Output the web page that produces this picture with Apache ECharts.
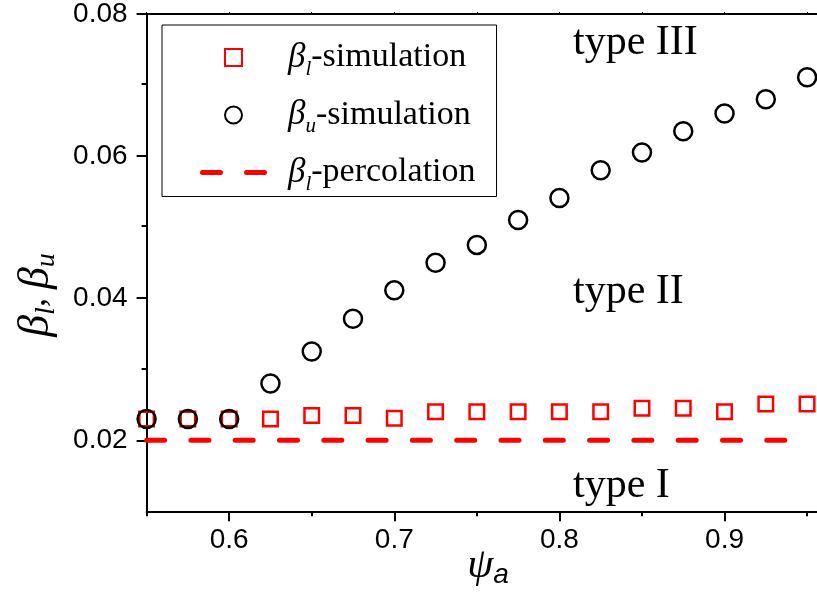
<!DOCTYPE html>
<html>
<head>
<meta charset="utf-8">
<script src="https://cdn.jsdelivr.net/npm/echarts@6/dist/echarts.min.js"></script>
<style>
  html, body { margin: 0; padding: 0; background: #fff; }
  #main { width: 817px; height: 596px; }
</style>
</head>
<body>
<div id="main"></div>
<script>
// data
var psi = [0.55, 0.575, 0.6, 0.625, 0.65, 0.675, 0.7, 0.725, 0.75, 0.775, 0.8, 0.825, 0.85, 0.875, 0.9, 0.925, 0.95];
var betaLower = [0.0230, 0.0230, 0.0230, 0.0230, 0.0235, 0.0235, 0.0231, 0.0240, 0.0240, 0.0240, 0.0240, 0.0240, 0.0245, 0.0245, 0.0240, 0.0251, 0.0251];
var betaUpper = [0.0230, 0.0230, 0.0230, 0.0280, 0.0325, 0.0371, 0.0411, 0.0450, 0.0475, 0.0510, 0.0541, 0.0580, 0.0605, 0.0635, 0.0660, 0.0680, 0.0711];
var percX = [0.55, 0.941];
var percY = [0.02, 0.02];

var xMajor = [0.6, 0.7, 0.8, 0.9];
var xMinor = [0.55, 0.65, 0.75, 0.85, 0.95];
var yMajor = [0.02, 0.04, 0.06, 0.08];
var yMinor = [0.03, 0.05, 0.07];

var serif = '"Liberation Serif", "Times New Roman", serif';
var sans = '"Liberation Sans", Arial, sans-serif';

function pairs(xs, ys) {
  return xs.map(function (x, i) { return [x, ys[i]]; });
}

// legend icons: open square, two rounded dashes
var squareIcon = 'path://M0,0H10V10H0Z';
var dashIcon = 'path://M2.5,0H20.5A2.5,2.5,0,0,1,20.5,5H2.5A2.5,2.5,0,0,1,2.5,0Z' +
               'M46.5,0H64.5A2.5,2.5,0,0,1,64.5,5H46.5A2.5,2.5,0,0,1,46.5,0Z';

var chart = echarts.init(document.getElementById('main'));

var gridBox = { left: 146.6, right: 0, top: 12.3, bottom: 84.7 };
var xRange = { min: 0.55, max: 0.956 };
var yRange = { min: 0.01, max: 0.08 };

var option = {
  backgroundColor: '#fff',
  animation: false,
  grid: [
    Object.assign({}, gridBox),
    Object.assign({}, gridBox)   // second grid only carries the short minor ticks
  ],
  xAxis: [
    {
      type: 'value', gridIndex: 0, position: 'bottom',
      min: xRange.min, max: xRange.max, interval: 0.05,
      axisLine: { lineStyle: { color: '#000', width: 2 } },
      axisTick: { inside: false, length: 10, customValues: xMajor, lineStyle: { color: '#000', width: 2 } },
      axisLabel: {
        customValues: xMajor, margin: 15,
        fontFamily: sans, fontSize: 28, color: '#000',
        formatter: function (v) { return v.toFixed(1); }
      },
      splitLine: { show: false }
    },
    {
      type: 'value', gridIndex: 0, position: 'top',
      min: xRange.min, max: xRange.max, interval: 0.05,
      axisLine: { lineStyle: { color: '#000', width: 2 } },
      axisTick: { length: 2, customValues: xMajor.concat(xMinor), lineStyle: { color: '#000', width: 1 } },
      axisLabel: { show: false },
      splitLine: { show: false }
    },
    {
      type: 'value', gridIndex: 1, position: 'bottom',
      min: xRange.min, max: xRange.max, interval: 0.05,
      axisLine: { show: false },
      axisTick: { length: 5, customValues: xMinor, lineStyle: { color: '#000', width: 2 } },
      axisLabel: { show: false },
      splitLine: { show: false }
    }
  ],
  yAxis: [
    {
      type: 'value', gridIndex: 0, position: 'left',
      min: yRange.min, max: yRange.max, interval: 0.01,
      axisLine: { show: true, lineStyle: { color: '#000', width: 2 } },
      axisTick: { show: true, length: 10, customValues: yMajor, lineStyle: { color: '#000', width: 2 } },
      axisLabel: {
        customValues: yMajor, margin: 19,
        fontFamily: sans, fontSize: 28, color: '#000',
        formatter: function (v) { return v.toFixed(2); }
      },
      splitLine: { show: false }
    },
    {
      type: 'value', gridIndex: 1, position: 'left',
      min: yRange.min, max: yRange.max, interval: 0.01,
      axisLine: { show: false },
      axisTick: { show: true, length: 5, customValues: yMinor, lineStyle: { color: '#000', width: 2 } },
      axisLabel: { show: false },
      splitLine: { show: false }
    }
  ],
  legend: {
    orient: 'vertical',
    left: 162, top: 25,
    padding: [15, 21, 2, 38],
    itemGap: 18,
    itemWidth: 67,
    itemHeight: 17,
    borderColor: '#000',
    borderWidth: 1,
    borderRadius: 0,
    backgroundColor: '#fff',
    data: [
      { name: 'bl-sim', icon: squareIcon },
      { name: 'bu-sim', icon: 'circle' },
      { name: 'bl-perc', icon: dashIcon, itemStyle: { color: '#ff0000', borderWidth: 0 } }
    ],
    formatter: function (name) {
      if (name === 'bl-sim') return '{b|β}{s|l}{t|-simulation}';
      if (name === 'bu-sim') return '{b|β}{s|u}{t|-simulation}';
      return '{b|β}{s|l}{t|-percolation}';
    },
    textStyle: {
      color: '#000',
      rich: {
        b: { fontFamily: serif, fontStyle: 'italic', fontSize: 35, lineHeight: 44, padding: [0, 0, 0, 16], color: '#000' },
        s: { fontFamily: serif, fontStyle: 'italic', fontSize: 21, lineHeight: 8, verticalAlign: 'bottom', color: '#000' },
        t: { fontFamily: serif, fontSize: 34, lineHeight: 44, color: '#000' }
      }
    }
  },
  graphic: [
    {
      type: 'text', x: 573, y: 43,
      style: { text: 'type III', font: '42px ' + serif, fill: '#000', verticalAlign: 'middle' }
    },
    {
      type: 'text', x: 573, y: 292,
      style: { text: 'type II', font: '42px ' + serif, fill: '#000', verticalAlign: 'middle' }
    },
    {
      type: 'text', x: 573, y: 485.5,
      style: { text: 'type I', font: '42px ' + serif, fill: '#000', verticalAlign: 'middle' }
    },
    {
      type: 'text', x: 36, y: 295, rotation: Math.PI / 2,
      style: {
        text: '{b|β}{s|l}{c|, }{b|β}{s|u}',
        align: 'center', verticalAlign: 'middle', fill: '#000',
        rich: {
          b: { fontFamily: serif, fontStyle: 'italic', fontSize: 44, lineHeight: 50 },
          s: { fontFamily: serif, fontStyle: 'italic', fontSize: 28, lineHeight: 8, verticalAlign: 'bottom' },
          c: { fontFamily: serif, fontStyle: 'italic', fontSize: 36, lineHeight: 50 }
        }
      }
    },
    {
      type: 'text', x: 488, y: 566,
      style: {
        text: '{p|ψ}{a|a}',
        align: 'center', verticalAlign: 'middle', fill: '#000',
        rich: {
          p: { fontFamily: serif, fontStyle: 'italic', fontSize: 42, lineHeight: 46 },
          a: { fontFamily: sans, fontStyle: 'italic', fontSize: 28, lineHeight: 12, verticalAlign: 'bottom' }
        }
      }
    }
  ],
  series: [
    {
      name: 'bl-sim',
      type: 'scatter',
      xAxisIndex: 0, yAxisIndex: 0,
      symbol: 'rect',
      symbolSize: 14.5,
      clip: true,
      itemStyle: { color: 'rgba(0,0,0,0)', borderColor: '#ff0000', borderWidth: 2.5, opacity: 1 },
      data: pairs(psi, betaLower),
      z: 2
    },
    {
      name: 'bu-sim',
      type: 'scatter',
      xAxisIndex: 0, yAxisIndex: 0,
      symbol: 'circle',
      symbolSize: 18,
      clip: true,
      itemStyle: { color: 'rgba(0,0,0,0)', borderColor: '#000', borderWidth: 2.5, opacity: 1 },
      data: pairs(psi, betaUpper),
      z: 3
    },
    {
      name: 'bl-perc',
      type: 'line',
      xAxisIndex: 0, yAxisIndex: 0,
      symbol: 'none',
      itemStyle: { color: '#ff0000' },
      lineStyle: { color: '#ff0000', width: 5, type: [18, 26.3], cap: 'round' },
      data: pairs(percX, percY),
      z: 2
    }
  ]
};

chart.setOption(option);
</script>
</body>
</html>
